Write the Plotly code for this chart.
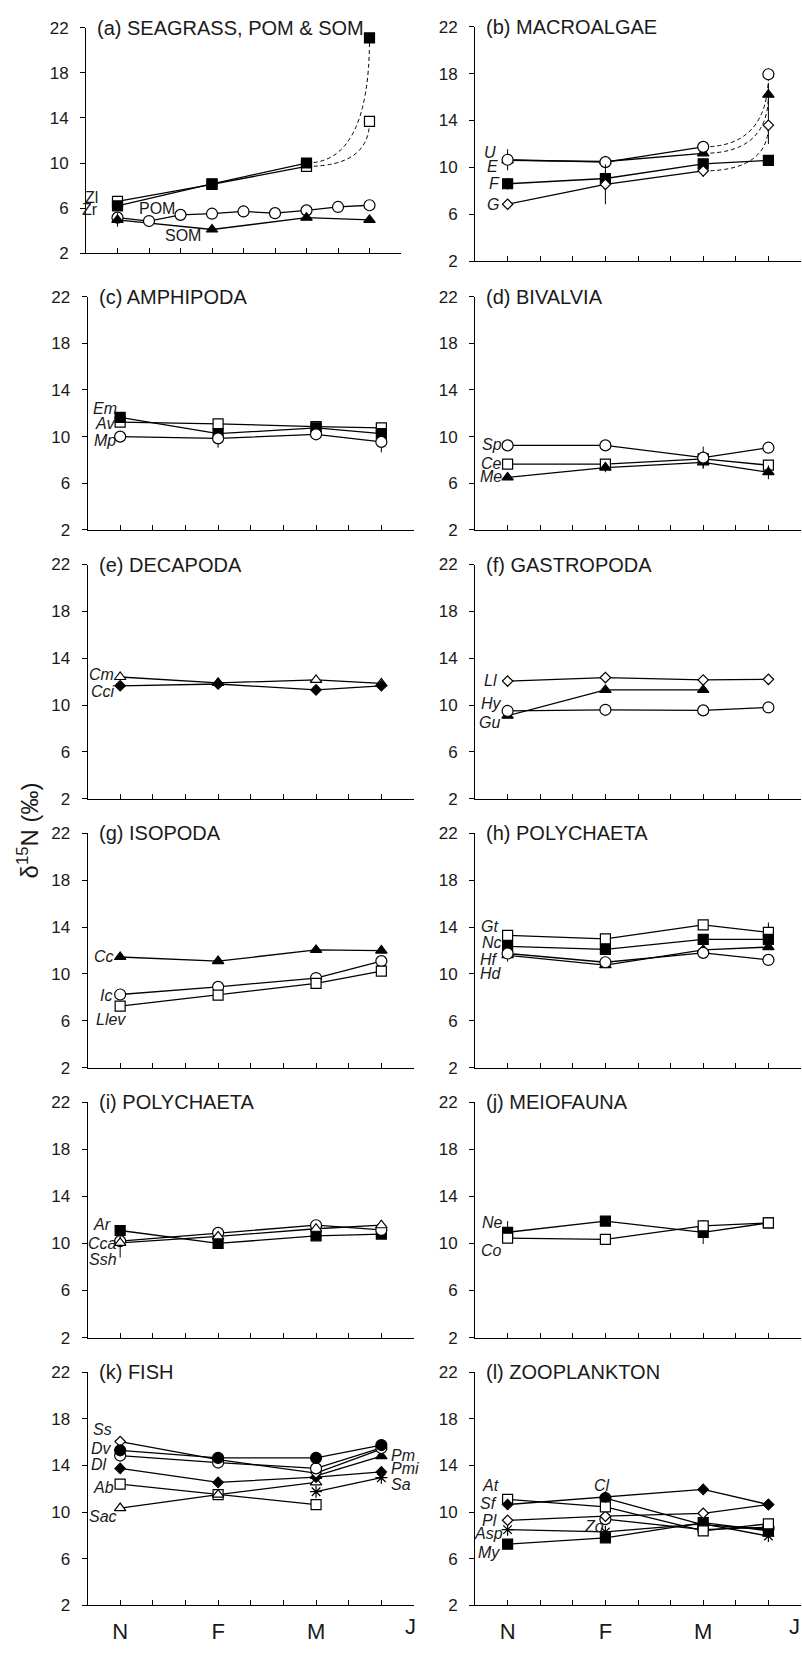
import plotly.graph_objects as go

# ---------------- data ----------------
SAMPLE_X = [1, 4, 7, 9]            # sampling dates (months after October)
POM_X = [1, 2, 3, 4, 5, 6, 7, 8, 9]
XTICK_VALS = [1, 4, 7, 10]
XTICK_TEXT = ["N", "F", "M", "J"]
YTICK_VALS = [2, 6, 10, 14, 18, 22]

PANEL_TITLES = ["(a) SEAGRASS, POM & SOM", "(b) MACROALGAE", "(c) AMPHIPODA", "(d) BIVALVIA",
                "(e) DECAPODA", "(f) GASTROPODA", "(g) ISOPODA", "(h) POLYCHAETA",
                "(i) POLYCHAETA", "(j) MEIOFAUNA", "(k) FISH", "(l) ZOOPLANKTON"]

# (a)
a_Zl = [6.6, 8.1, 9.7, 13.7]
a_Zr = [6.2, 8.15, 10.0, 21.1]
a_POM = [5.15, 4.85, 5.4, 5.5, 5.7, 5.55, 5.8, 6.1, 6.25]
a_POM_sd = [0, 0, 0, 0, 0.5, 0, 0, 0, 0]
a_SOM = [4.95, 4.1, 5.15, 4.95]
a_SOM_sd = [0.6, 0, 0, 0]
# (b)
b_U = [10.65, 10.45, 11.75, 17.95]
b_U_sd = [0.9, 0, 0.3, 0.5]
b_E = [10.6, 10.5, 11.2, 16.2]
b_E_sd = [0, 0, 0, 1.0]
b_F = [8.6, 9.05, 10.3, 10.6]
b_F_sd = [0.5, 0.6, 0, 0]
b_G = [6.85, 8.55, 9.7, 13.6]
b_G_sd = [0, 1.7, 0.5, 1.6]
# (c)
c_Av = [11.25, 11.1, 10.85, 10.75]
c_Em = [11.65, 10.25, 10.75, 10.25]
c_Mp = [10.0, 9.85, 10.2, 9.55]
c_Mp_sd = [0, 0.8, 0, 0.9]
# (d)
d_Ce = [7.65, 7.65, 8.1, 7.55]
d_Me = [6.5, 7.35, 7.8, 6.95]
d_Me_sd = [0, 0.4, 0.5, 0.6]
d_Sp = [9.25, 9.25, 8.2, 9.05]
d_Sp_sd = [0, 0, 0.95, 0]
# (e)
e_Cm = [12.4, 11.9, 12.15, 11.85]
e_Cci = [11.65, 11.8, 11.3, 11.65]
# (f)
f_Ll = [12.05, 12.35, 12.15, 12.2]
f_Hy = [9.1, 11.3, 11.3, None]
f_Gu = [9.5, 9.6, 9.55, 9.8]
# (g)
g_Cc = [11.45, 11.1, 12.05, 12.0]
g_Ic = [8.25, 8.9, 9.65, 11.1]
g_Llev = [7.25, 8.2, 9.2, 10.25]
# (h)
h_Gt = [13.3, 13.0, 14.2, 13.55]
h_Gt_sd = [0, 0, 0, 0.85]
h_Nc = [12.35, 12.1, 12.95, 12.95]
h_Hf = [11.6, 10.75, 12.05, 12.3]
h_Hd = [11.75, 11.0, 11.8, 11.2]
h_Hd_sd = [0.7, 0, 0, 0]
# (i)
i_Ar = [11.1, 10.0, 10.65, 10.8]
i_Ar_sd = [0.4, 0, 0, 0]
i_Cca = [10.2, 10.9, 11.55, 11.15]
i_Ssh = [10.05, 10.6, 11.25, 11.55]
i_Ssh_sd = [1.25, 0, 0, 0]
# (j)
j_Ne = [10.95, 11.9, 10.95, 11.75]
j_Ne_sd = [0.95, 0, 1.0, 0]
j_Co = [10.45, 10.35, 11.5, 11.75]
j_Co_sd = [0, 0, 0.5, 0]
# (k)
k_Ab = [12.4, 11.5, 10.65, None]
k_Sac = [10.35, 11.5, 12.55, None]
k_Sa = [None, None, 11.75, 12.95]
k_Pmi = [13.75, 12.55, 13.0, 13.45]
k_Pm = [None, None, 13.1, 14.8]
k_Ss = [16.05, 14.5, 13.35, 15.4]
k_Dl = [14.85, 14.25, 13.75, 15.5]
k_Dv = [15.3, 14.65, 14.65, 15.75]
# (l)
l_At = [11.1, 10.45, 8.4, 9.0]
l_Sf = [10.65, 11.3, 11.95, 10.65]
l_Pl = [9.3, 9.65, 9.9, 10.65]
l_Cl = [None, 11.2, 8.9, 8.55]
l_Zo = [None, 9.4, 8.5, 8.7]
l_Asp = [8.5, 8.3, 9.0, 7.95]
l_My = [7.25, 7.8, 9.1, 8.4]
l_My_sd = [0, 0, 0.5, 0]

# ---------------- panel definitions ----------------
# series: (x, y, sd, symbol, filled, dashed_last)
PANELS = [
    dict(series=[(SAMPLE_X, a_Zl, None, "sq", False, True),
                 (SAMPLE_X, a_Zr, None, "sq", True, True),
                 (POM_X, a_POM, a_POM_sd, "ci", False, False),
                 (SAMPLE_X, a_SOM, a_SOM_sd, "tr", True, False)],
         labels=[("Zl", 1, 6.95, "right", -19, False), ("Zr", 1, 5.85, "right", -19, False),
                 ("POM", 2.25, 6.0, "center", 0, False), ("SOM", 3.08, 3.55, "center", 0, False)]),
    dict(series=[(SAMPLE_X, b_E, b_E_sd, "tr", True, True),
                 (SAMPLE_X, b_U, b_U_sd, "ci", False, True),
                 (SAMPLE_X, b_F, b_F_sd, "sq", True, False),
                 (SAMPLE_X, b_G, b_G_sd, "di", False, True)],
         labels=[("U", 1, 11.3, "right", -11, True), ("E", 1, 10.1, "right", -9, True),
                 ("F", 1, 8.6, "right", -7, True), ("G", 1, 6.87, "right", -8, True)]),
    dict(series=[(SAMPLE_X, c_Av, None, "sq", False, False),
                 (SAMPLE_X, c_Em, None, "sq", True, False),
                 (SAMPLE_X, c_Mp, c_Mp_sd, "ci", False, False)],
         labels=[("Em", 1, 12.4, "right", -2, True), ("Av", 1, 11.1, "right", -4, True),
                 ("Mp", 1, 9.63, "right", -3, True)]),
    dict(series=[(SAMPLE_X, d_Ce, None, "sq", False, False),
                 (SAMPLE_X, d_Me, d_Me_sd, "tr", True, False),
                 (SAMPLE_X, d_Sp, d_Sp_sd, "ci", False, False)],
         labels=[("Sp", 1, 9.34, "right", -5, True), ("Ce", 1, 7.73, "right", -5, True),
                 ("Me", 1, 6.6, "right", -5, True)]),
    dict(series=[(SAMPLE_X, e_Cm, None, "tr", False, False),
                 (SAMPLE_X, e_Cci, None, "di", True, False)],
         labels=[("Cm", 1, 12.63, "right", -5, True), ("Cci", 1, 11.14, "right", -4, True)]),
    dict(series=[(SAMPLE_X, f_Ll, None, "di", False, False),
                 (SAMPLE_X, f_Hy, None, "tr", True, False),
                 (SAMPLE_X, f_Gu, None, "ci", False, False)],
         labels=[("Ll", 1, 12.07, "right", -10, True), ("Hy", 1, 10.15, "right", -5, True),
                 ("Gu", 1, 8.55, "right", -7, True)]),
    dict(series=[(SAMPLE_X, g_Cc, None, "tr", True, False),
                 (SAMPLE_X, g_Ic, None, "ci", False, False),
                 (SAMPLE_X, g_Llev, None, "sq", False, False)],
         labels=[("Cc", 1, 11.49, "right", -5, True), ("Ic", 1, 8.14, "right", -7, True),
                 ("Llev", 1, 6.14, "right", 7, True)]),
    dict(series=[(SAMPLE_X, h_Gt, h_Gt_sd, "sq", False, False),
                 (SAMPLE_X, h_Nc, None, "sq", True, False),
                 (SAMPLE_X, h_Hf, None, "tr", True, False),
                 (SAMPLE_X, h_Hd, h_Hd_sd, "ci", False, False)],
         labels=[("Gt", 1, 14.05, "right", -9, True), ("Nc", 1, 12.73, "right", -5, True),
                 ("Hf", 1, 11.27, "right", -9, True), ("Hd", 1, 10.0, "right", -5, True)]),
    dict(series=[(SAMPLE_X, i_Ar, i_Ar_sd, "sq", True, False),
                 (SAMPLE_X, i_Cca, None, "ci", False, False),
                 (SAMPLE_X, i_Ssh, i_Ssh_sd, "tr", False, False)],
         labels=[("Ar", 1, 11.64, "right", -8, True), ("Cca", 1, 9.98, "right", -2, True),
                 ("Ssh", 1, 8.64, "right", -2, True)]),
    dict(series=[(SAMPLE_X, j_Ne, j_Ne_sd, "sq", True, False),
                 (SAMPLE_X, j_Co, j_Co_sd, "sq", False, False)],
         labels=[("Ne", 1, 11.75, "right", -4, True), ("Co", 1, 9.36, "right", -5, True)]),
    dict(series=[(SAMPLE_X, k_Ab, None, "sq", False, False),
                 (SAMPLE_X, k_Sac, None, "tr", False, False),
                 (SAMPLE_X, k_Sa, None, "as", False, False),
                 (SAMPLE_X, k_Pmi, None, "di", True, False),
                 (SAMPLE_X, k_Pm, None, "tr", True, False),
                 (SAMPLE_X, k_Ss, None, "di", False, False),
                 (SAMPLE_X, k_Dl, None, "ci", False, False),
                 (SAMPLE_X, k_Dv, None, "ci", True, False)],
         labels=[("Ss", 1, 17.06, "right", -7, True), ("Dv", 1, 15.45, "right", -7, True),
                 ("Dl", 1, 14.09, "right", -12, True), ("Ab", 1, 12.11, "right", -5, True),
                 ("Sac", 1, 9.66, "right", -2, True),
                 ("Pm", 9, 14.82, "left", 9, True), ("Pmi", 9, 13.75, "left", 9, True),
                 ("Sa", 9, 12.4, "left", 9, True)]),
    dict(series=[(SAMPLE_X, l_My, l_My_sd, "sq", True, False),
                 (SAMPLE_X, l_Asp, None, "as", False, False),
                 (SAMPLE_X, l_Zo, None, "ci", False, False),
                 (SAMPLE_X, l_Cl, None, "ci", True, False),
                 (SAMPLE_X, l_Pl, None, "di", False, False),
                 (SAMPLE_X, l_At, None, "sq", False, False),
                 (SAMPLE_X, l_Sf, None, "di", True, False)],
         labels=[("At", 1, 12.28, "right", -8, True), ("Sf", 1, 10.78, "right", -10, True),
                 ("Pl", 1, 9.32, "right", -10, True), ("Asp", 1, 8.19, "right", -4, True),
                 ("My", 1, 6.55, "right", -7, True),
                 ("Cl", 4, 12.28, "center", -3, True), ("Zo", 4, 8.81, "right", 0, True)]),
]

# ---------------- geometry / style ----------------
FIG_W, FIG_H = 802, 1654
COL_X = [(87.5, 414.0), (475.0, 801.0)]
ROW_Y = [[(19, 247), (18, 255)], [(291, 527)] * 2, [(562, 799)] * 2,
         [(834, 1071)] * 2, [(1106, 1344)] * 2, [(1379, 1615)] * 2]
PANEL_A_X = (86.0, 401.0)
J_PIXEL_X = [410, 794]
FONT = "Liberation Sans, Arial, Helvetica, sans-serif"
SYM = {"sq": ("square", 10), "ci": ("circle", 11), "tr": ("triangle-up", 10),
       "di": ("diamond", 8), "as": ("asterisk-open", 10)}

fig = go.Figure()
layout = dict(width=FIG_W, height=FIG_H, margin=dict(l=0, r=0, t=0, b=0),
              paper_bgcolor="white", plot_bgcolor="white", showlegend=False,
              hovermode=False, font=dict(family=FONT, color="#1a1a1a"))
shapes, annotations = [], []

for i, p in enumerate(PANELS):
    r, c = divmod(i, 2)
    xa = "x" if i == 0 else f"x{i+1}"
    ya = "y" if i == 0 else f"y{i+1}"
    x0, x1 = PANEL_A_X if i == 0 else COL_X[c]
    top, bot = ROW_Y[r][c]
    bottom_row = (r == 5)
    ticktext = []
    for v in range(11):
        if bottom_row and v in XTICK_VALS[:-1]:
            ticktext.append(XTICK_TEXT[XTICK_VALS.index(v)])
        else:
            ticktext.append("")
    layout["xaxis" if i == 0 else f"xaxis{i+1}"] = dict(
        domain=[x0 / FIG_W, x1 / FIG_W], anchor=ya, range=[0, 10],
        tickmode="array", tickvals=list(range(11)), ticktext=ticktext,
        ticks="inside", ticklen=5, tickwidth=1, tickcolor="black",
        showline=True, linecolor="black", linewidth=1, showgrid=False, zeroline=False,
        tickfont=dict(size=22, family=FONT, color="#1a1a1a"), ticklabelstandoff=6)
    layout["yaxis" if i == 0 else f"yaxis{i+1}"] = dict(
        domain=[1 - bot / FIG_H, 1 - top / FIG_H], anchor=xa, range=[2, 22],
        tickmode="array", tickvals=YTICK_VALS,
        ticks="outside", ticklen=5, tickwidth=1, tickcolor="black",
        showline=True, linecolor="black", linewidth=1, showgrid=False, zeroline=False,
        tickfont=dict(size=17, family=FONT, color="#1a1a1a"), ticklabelstandoff=8)

    # last month label at the right end of the axis (kept inside the page)
    if bottom_row:
        annotations.append(dict(text=XTICK_TEXT[-1], xref="paper", yref="paper",
                                x=J_PIXEL_X[c] / FIG_W, y=1 - (bot + 8) / FIG_H,
                                xanchor="center", yanchor="top", showarrow=False, borderpad=0,
                                font=dict(size=22, family=FONT, color="#1a1a1a")))

    # lines first
    for xs, ys, sd, sym, filled, dashed in p["series"]:
        n = len(xs) - 1 if dashed else len(xs)
        fig.add_trace(go.Scatter(x=xs[:n], y=ys[:n], mode="lines", xaxis=xa, yaxis=ya,
                                 line=dict(color="black", width=1.3), hoverinfo="skip",
                                 connectgaps=False))
        if dashed:
            xm, ym, xe, ye = xs[-2], ys[-2], xs[-1], ys[-1]
            shapes.append(dict(type="path", xref=xa, yref=ya, layer="below",
                               path=f"M{xm},{ym} Q{xe},{ym} {xe},{ye}",
                               line=dict(color="black", width=1, dash="4px,3px")))
    # markers
    for xs, ys, sd, sym, filled, dashed in p["series"]:
        sname, size = SYM[sym]
        if sym == "as":
            marker = dict(symbol=sname, size=size, line=dict(color="black", width=1.2), color="black")
        else:
            marker = dict(symbol=sname, size=size, color="black" if filled else "white",
                          line=dict(color="black", width=1.2))
        err = None
        if sd is not None:
            err = dict(type="data", array=sd, visible=True, width=0, thickness=1, color="black")
        fig.add_trace(go.Scatter(x=xs, y=ys, mode="markers", xaxis=xa, yaxis=ya,
                                 marker=marker, error_y=err, cliponaxis=False))

    annotations.append(dict(text=PANEL_TITLES[i], xref=xa, yref=ya, x=0, y=22,
                            xanchor="left", yanchor="middle", xshift=9, showarrow=False,
                            font=dict(size=20, family=FONT, color="#1a1a1a")))
    for text, lx, ly, anc, shift, italic in p["labels"]:
        annotations.append(dict(text=f"<i>{text}</i>" if italic else text, xref=xa, yref=ya,
                                x=lx, y=ly, xanchor=anc, yanchor="middle", xshift=shift,
                                showarrow=False, borderpad=0,
                                font=dict(size=16, family=FONT, color="#1a1a1a")))

annotations.append(dict(text="δ<sup>15</sup>N (‰)", xref="paper", yref="paper",
                        x=28 / FIG_W, y=1 - 831 / FIG_H, xanchor="center", yanchor="middle",
                        textangle=-90, showarrow=False,
                        font=dict(size=24, family=FONT, color="#1a1a1a")))

layout["shapes"] = shapes
layout["annotations"] = annotations
fig.update_layout(**layout)
# remove the browser's default 8px page margin so the figure sits at the page origin
fig.write_html("out.html", config={"displayModeBar": False, "staticPlot": True},
               post_script="document.body.style.margin='0px';document.body.style.overflow='hidden';")
